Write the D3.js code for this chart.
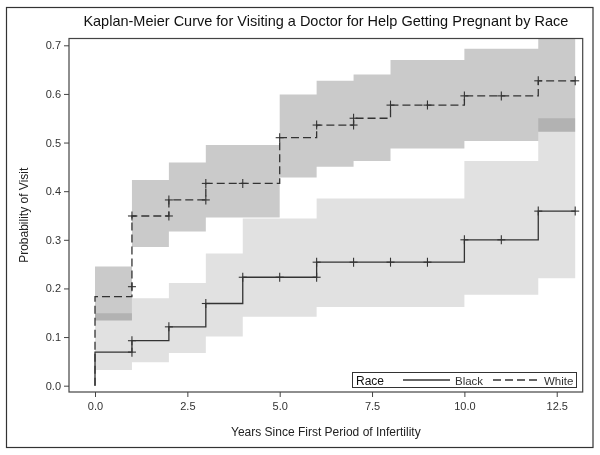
<!DOCTYPE html>
<html><head><meta charset="utf-8">
<script src="https://cdn.jsdelivr.net/npm/d3@7"></script>
<style>body{margin:0;background:#fff;} text{font-family:Arial,"Liberation Sans",sans-serif;}</style>
</head><body>
<svg id="chart" width="600" height="455"></svg>
<script>
const titleText = "Kaplan-Meier Curve for Visiting a Doctor for Help Getting Pregnant by Race";
const xLabel = "Years Since First Period of Infertility";
const yLabel = "Probability of Visit";
const legendTitle = "Race";
const groups = ["Black", "White"];
const xTicks = [0, 2.5, 5, 7.5, 10, 12.5];
const yTicks = [0, 0.1, 0.2, 0.3, 0.4, 0.5, 0.6, 0.7];

// Black: step times (interval starts, last = end), estimates and confidence limits
const blackTimes = [0, 1, 2, 3, 4, 6, 10, 12, 13];
const blackValues = [0.069, 0.0925, 0.121, 0.169, 0.223, 0.254, 0.300, 0.359];
const blackLower = [0.032, 0.048, 0.067, 0.101, 0.142, 0.162, 0.187, 0.221];
const blackUpper = [0.149, 0.180, 0.211, 0.272, 0.344, 0.385, 0.462, 0.550];
const blackCensorT = [1, 1, 2, 3, 4, 5, 6, 6, 7, 8, 9, 10, 11, 12, 13];
const blackCensorV = [0.069, 0.0925, 0.121, 0.169, 0.223, 0.223, 0.223, 0.254, 0.254, 0.254, 0.254, 0.300, 0.300, 0.359, 0.359];

// White
const whiteTimes = [0, 1, 2, 3, 5, 6, 7, 8, 10, 12, 13];
const whiteValues = [0.183, 0.349, 0.382, 0.416, 0.510, 0.536, 0.550, 0.577, 0.596, 0.627];
const whiteLower = [0.134, 0.285, 0.317, 0.346, 0.428, 0.450, 0.462, 0.488, 0.503, 0.522];
const whiteUpper = [0.245, 0.423, 0.459, 0.495, 0.599, 0.627, 0.640, 0.670, 0.693, 0.740];
const whiteCensorT = [1, 1, 2, 2, 3, 3, 4, 5, 6, 7, 7, 8, 9, 10, 11, 12, 13];
const whiteCensorV = [0.2036, 0.349, 0.349, 0.382, 0.382, 0.416, 0.416, 0.510, 0.536, 0.536, 0.550, 0.577, 0.577, 0.596, 0.596, 0.627, 0.627];

const svg = d3.select("#chart");
const L = 69, R = 582.7, T = 38.5, B = 392;
const x = d3.scaleLinear().domain([-0.704, 13.203]).range([L, R]);
const y = d3.scaleLinear().domain([-0.013, 0.714]).range([B, T]);

// outer border
svg.append("rect").attr("x", 6.5).attr("y", 7.5).attr("width", 586.5).attr("height", 440)
  .attr("fill", "none").attr("stroke", "#333").attr("stroke-width", 1.2);

svg.append("text").attr("x", (L + R) / 2).attr("y", 26).attr("text-anchor", "middle")
  .attr("font-size", 14.5).attr("fill", "#111").text(titleText);

svg.append("defs").append("clipPath").attr("id", "clip")
  .append("rect").attr("x", L).attr("y", T).attr("width", R - L).attr("height", B - T);

const plot = svg.append("g").attr("clip-path", "url(#clip)");

function bandData(times, lo, hi) {
  const d = times.slice(0, -1).map((t, i) => ({t, lo: lo[i], hi: hi[i]}));
  d.push({t: times[times.length - 1], lo: lo[lo.length - 1], hi: hi[hi.length - 1]});
  return d;
}
function lineData(times, vals) {
  const d = [{t: times[0], v: 0}];
  times.slice(0, -1).forEach((t, i) => d.push({t, v: vals[i]}));
  d.push({t: times[times.length - 1], v: vals[vals.length - 1]});
  return d;
}
const area = d3.area().curve(d3.curveStepAfter).x(d => x(d.t)).y0(d => y(d.lo)).y1(d => y(d.hi));
const line = d3.line().curve(d3.curveStepAfter).x(d => x(d.t)).y(d => y(d.v));

plot.append("path").datum(bandData(blackTimes, blackLower, blackUpper))
  .attr("d", area).attr("fill", "#e1e1e1").style("mix-blend-mode", "multiply");
plot.append("path").datum(bandData(whiteTimes, whiteLower, whiteUpper))
  .attr("d", area).attr("fill", "#cacaca").style("mix-blend-mode", "multiply");

plot.append("path").datum(lineData(whiteTimes, whiteValues)).attr("d", line)
  .attr("fill", "none").attr("stroke", "#333").attr("stroke-width", 1.3).attr("stroke-dasharray", "8,4");
plot.append("path").datum(lineData(blackTimes, blackValues)).attr("d", line)
  .attr("fill", "none").attr("stroke", "#333").attr("stroke-width", 1.3);

function censor(ts, vs) {
  const g = plot.append("g").attr("stroke", "#333").attr("stroke-width", 1.1);
  ts.forEach((t, i) => {
    const cx = x(t), cy = y(vs[i]);
    g.append("line").attr("x1", cx - 4).attr("x2", cx + 4).attr("y1", cy).attr("y2", cy);
    g.append("line").attr("x1", cx).attr("x2", cx).attr("y1", cy - 4.5).attr("y2", cy + 4.5);
  });
}
censor(blackCensorT, blackCensorV);
censor(whiteCensorT, whiteCensorV);

// frame
svg.append("rect").attr("x", L).attr("y", T).attr("width", R - L).attr("height", B - T)
  .attr("fill", "none").attr("stroke", "#444").attr("stroke-width", 1.2);

const xAxis = svg.append("g").attr("transform", `translate(0,${B})`)
  .call(d3.axisBottom(x).tickValues(xTicks).tickFormat(d3.format(".1f")).tickSize(5).tickPadding(5));
const yAxis = svg.append("g").attr("transform", `translate(${L},0)`)
  .call(d3.axisLeft(y).tickValues(yTicks).tickFormat(d3.format(".1f")).tickSize(5).tickPadding(3));
[xAxis, yAxis].forEach(a => {
  a.select(".domain").remove();
  a.selectAll(".tick line").attr("stroke", "#444");
  a.selectAll(".tick text").attr("font-size", 11).attr("fill", "#333")
    .style("font-family", "Arial, 'Liberation Sans', sans-serif");
});

svg.append("text").attr("x", (L + R) / 2).attr("y", 436).attr("text-anchor", "middle")
  .attr("font-size", 12).attr("fill", "#222").text(xLabel);
svg.append("text").attr("transform", `translate(28,${(T + B) / 2}) rotate(-90)`).attr("text-anchor", "middle")
  .attr("font-size", 12).attr("fill", "#222").text(yLabel);

// legend
const lg = svg.append("g");
lg.append("rect").attr("x", 352.5).attr("y", 372.5).attr("width", 224).attr("height", 15)
  .attr("fill", "#fff").attr("stroke", "#333").attr("stroke-width", 1);
lg.append("text").attr("x", 356).attr("y", 384.5).attr("font-size", 12).attr("fill", "#111").text(legendTitle);
lg.append("line").attr("x1", 403).attr("x2", 450).attr("y1", 380).attr("y2", 380)
  .attr("stroke", "#333").attr("stroke-width", 1.3);
lg.append("text").attr("x", 455).attr("y", 384.5).attr("font-size", 11.5).attr("fill", "#333").text(groups[0]);
lg.append("line").attr("x1", 493).attr("x2", 541).attr("y1", 380).attr("y2", 380)
  .attr("stroke", "#333").attr("stroke-width", 1.3).attr("stroke-dasharray", "8,4");
lg.append("text").attr("x", 544).attr("y", 384.5).attr("font-size", 11.5).attr("fill", "#333").text(groups[1]);
</script>
</body></html>
